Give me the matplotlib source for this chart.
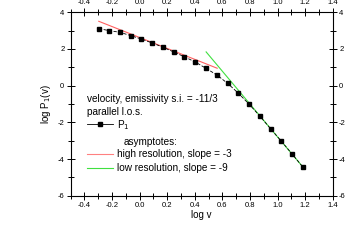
import matplotlib
matplotlib.use("Agg")
import matplotlib.pyplot as plt
from matplotlib.ticker import MultipleLocator
from matplotlib.lines import Line2D

plt.rcParams['font.family'] = ['Liberation Sans', 'DejaVu Sans']

log_v = [-0.296, -0.219, -0.144, -0.064, 0.013, 0.091, 0.171, 0.246, 0.323, 0.403,
         0.480, 0.560, 0.637, 0.715, 0.792, 0.870, 0.949, 1.026, 1.103, 1.181]
log_P1 = [3.11, 3.00, 2.91, 2.73, 2.54, 2.33, 2.09, 1.84, 1.58, 1.29,
          0.95, 0.58, 0.13, -0.41, -1.00, -1.65, -2.35, -3.02, -3.71, -4.42]
high_x = [-0.296, 0.562]
high_y = [3.51, 0.95]
low_x = [0.482, 1.181]
low_y = [1.84, -4.42]

fig = plt.figure(figsize=(3.46, 2.46), dpi=100)
ax = fig.add_axes([0.204, 0.2045, 0.758, 0.7455])

ax.plot(high_x, high_y, color='#ff6060', lw=0.8)
ax.plot(low_x, low_y, color='#40e040', lw=0.8)
ax.plot(log_v, log_P1, color='black', lw=0.6, ls=(0, (4, 2)), marker='s', ms=3.2,
        mec='black', mfc='black')

ax.set_xlim(-0.5, 1.4)
ax.set_ylim(-6, 4)
ax.xaxis.set_major_locator(MultipleLocator(0.2))
ax.xaxis.set_minor_locator(MultipleLocator(0.1))
ax.yaxis.set_major_locator(MultipleLocator(2))
ax.yaxis.set_minor_locator(MultipleLocator(1))
ax.xaxis.set_major_formatter(plt.FuncFormatter(lambda v, p: f"{v:.1f}"))
ax.yaxis.set_major_formatter(plt.FuncFormatter(lambda v, p: f"{v:.0f}"))
ax.tick_params(which='both', direction='inout', top=True, right=True,
               labeltop=True, labelright=True, labelsize=5.5, width=0.7, pad=1.5)
ax.tick_params(which='major', length=6)
ax.tick_params(which='minor', length=4)
for s in ax.spines.values():
    s.set_linewidth(0.8)

ax.set_xlabel('log v', fontsize=7, labelpad=1)
ax.set_ylabel('log P$_1$(v)', fontsize=7, labelpad=3)

fs = 7.2
tr = ax.transAxes
def fx(px):
    return (px - 70.7) / (333 - 70.7)
def fy(py):
    return 1 - (py - 12.3) / (195.7 - 12.3)

ax.text(fx(87), fy(99), 'velocity, emissivity s.i. = -11/3', transform=tr, fontsize=fs, va='center')
ax.text(fx(87), fy(112), 'parallel l.o.s.', transform=tr, fontsize=fs, va='center')
ax.add_line(Line2D([fx(87), fx(113)], [fy(124), fy(124)], transform=tr, color='black', lw=0.6))
ax.add_line(Line2D([fx(100)], [fy(124)], transform=tr, color='black', marker='s', ms=3.2, lw=0))
ax.text(fx(117), fy(125), 'P$_1$', transform=tr, fontsize=fs, va='center')
ax.text(fx(124), fy(142), 'asymptotes:', transform=tr, fontsize=fs, va='center')
ax.add_line(Line2D([fx(87), fx(113)], [fy(154), fy(154)], transform=tr, color='#ff8080', lw=0.8))
ax.text(fx(117), fy(154), 'high resolution, slope = -3', transform=tr, fontsize=fs, va='center')
ax.add_line(Line2D([fx(87), fx(113)], [fy(168), fy(168)], transform=tr, color='#40e040', lw=0.8))
ax.text(fx(117), fy(168), 'low resolution, slope = -9', transform=tr, fontsize=fs, va='center')

fig.savefig('out.png', dpi=100)
